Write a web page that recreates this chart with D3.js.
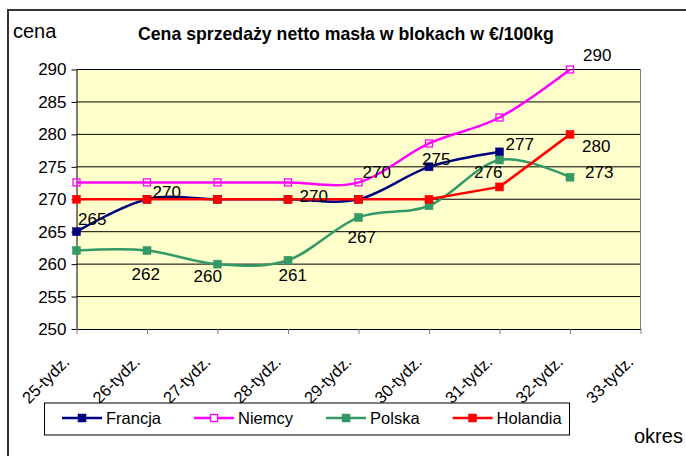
<!DOCTYPE html>
<html>
<head>
<meta charset="utf-8">
<script src="https://cdn.jsdelivr.net/npm/d3@7"></script>
<style>
  body { margin: 0; background: #fff; }
  svg { display: block; font-family: "Liberation Sans", Arial, sans-serif; }
</style>
</head>
<body>
<div id="chart"></div>
<script>
// weeks on the x axis (33 has no data)
var weeks = ["25-tydz.", "26-tydz.", "27-tydz.", "28-tydz.", "29-tydz.", "30-tydz.", "31-tydz.", "32-tydz.", "33-tydz."];
var yTicks = [250, 255, 260, 265, 270, 275, 280, 285, 290];

var francja  = [265, 270, 270, 270, 270, 275, 277.3];
var niemcy   = [272.6, 272.6, 272.6, 272.6, 272.6, 278.6, 282.6, 290];
var polska   = [262.1, 262.1, 260, 260.6, 267.2, 269, 276.05, 273.4];
var holandia = [270, 270, 270, 270, 270, 270, 271.9, 280];

var seriesNames = ["Francja", "Niemcy", "Polska", "Holandia"];
var seriesValues = [francja, niemcy, polska, holandia];

// which points carry a value label: [series, index]
var dataLabels = [
  ["Francja", 0], ["Francja", 1], ["Francja", 3], ["Francja", 4], ["Francja", 5], ["Francja", 6],
  ["Niemcy", 7],
  ["Polska", 1], ["Polska", 2], ["Polska", 3], ["Polska", 4], ["Polska", 6], ["Polska", 7],
  ["Holandia", 7]
];

var W = 686, H = 456;
var plotL = 76.5, plotR = 640.5, plotT = 69.5, plotB = 329;

var colors = { Francja: "#000080", Niemcy: "#ff00ff", Polska: "#339966", Holandia: "#ff0000" };
var curves = {
  Francja: d3.curveCardinal.tension(0),
  Niemcy: d3.curveCardinal.tension(0),
  Polska: d3.curveCardinal.tension(0),
  Holandia: d3.curveLinear
};
// label offsets from the point (x to start of text, y to baseline)
var labelOffsets = {
  "Francja0": [1.5, -7], "Francja1": [5.5, -1], "Francja3": [11.5, 3], "Francja4": [4, -21],
  "Francja5": [-7, -2], "Francja6": [6, -2], "Niemcy7": [13, -8.5], "Holandia7": [12, 18],
  "Polska1": [-15.5, 29], "Polska2": [-24, 18], "Polska3": [-9.5, 21], "Polska4": [-11, 26],
  "Polska6": [-25.5, 18], "Polska7": [15, 1]
};

var svg = d3.select("#chart").append("svg")
  .attr("width", W)
  .attr("height", H);

// outer frame (cut by the window on right and bottom)
svg.append("rect")
  .attr("x", 8).attr("y", 10)
  .attr("width", W + 20).attr("height", H + 20)
  .attr("fill", "none")
  .attr("stroke", "#333")
  .attr("stroke-width", 2);

var x = d3.scalePoint().domain(weeks).range([plotL, plotR]);
var y = d3.scaleLinear().domain([250, 290]).range([plotB, plotT]);

// plot background
svg.append("rect")
  .attr("x", plotL).attr("y", plotT)
  .attr("width", plotR - plotL).attr("height", plotB - plotT)
  .attr("fill", "#ffffcc");

// gridlines
svg.append("g")
  .selectAll("line")
  .data(yTicks.slice(1))
  .enter()
  .append("line")
    .attr("x1", plotL).attr("x2", plotR)
    .attr("y1", function(d) { return y(d); })
    .attr("y2", function(d) { return y(d); })
    .attr("stroke", "#000")
    .attr("stroke-width", 1);

// right border of plot
svg.append("line")
  .attr("x1", plotR).attr("x2", plotR)
  .attr("y1", plotT).attr("y2", plotB)
  .attr("stroke", "#808080");

// y axis
var yAxis = svg.append("g")
  .attr("transform", "translate(" + plotL + ",0)")
  .call(d3.axisLeft(y).tickValues(yTicks).tickSizeInner(5).tickSizeOuter(0).tickPadding(5));
yAxis.select(".domain").attr("stroke", "#000");
yAxis.selectAll(".tick line").attr("stroke", "#000");
yAxis.selectAll("text")
  .attr("font-size", 17)
  .attr("font-family", "Liberation Sans, Arial, sans-serif")
  .attr("fill", "#000");

// x axis
var xAxis = svg.append("g")
  .attr("transform", "translate(0," + plotB + ")")
  .call(d3.axisBottom(x).tickSizeInner(5).tickSizeOuter(0).tickFormat(""));
xAxis.select(".domain").attr("stroke", "#000");
xAxis.selectAll(".tick line").attr("stroke", "#808080");

svg.append("g")
  .selectAll("text")
  .data(weeks)
  .enter()
  .append("text")
    .attr("transform", function(d) { return "translate(" + (x(d) - 6) + "," + (plotB + 34) + ") rotate(-45)"; })
    .attr("text-anchor", "end")
    .attr("font-size", 16.5)
    .attr("fill", "#000")
    .text(function(d) { return d; });

// lines
seriesNames.forEach(function(name, si) {
  var vals = seriesValues[si];
  var line = d3.line()
    .x(function(d, i) { return x(weeks[i]); })
    .y(function(d) { return y(d); })
    .curve(curves[name]);
  svg.append("path")
    .datum(vals)
    .attr("d", line)
    .attr("fill", "none")
    .attr("stroke", colors[name])
    .attr("stroke-width", 2.5);
});

// markers
seriesNames.forEach(function(name, si) {
  var vals = seriesValues[si];
  var open = name === "Niemcy";
  svg.append("g")
    .selectAll("rect")
    .data(vals)
    .enter()
    .append("rect")
      .attr("x", function(d, i) { return x(weeks[i]) - (open ? 3.5 : 4); })
      .attr("y", function(d) { return y(d) - (open ? 3.5 : 4); })
      .attr("width", open ? 7 : 8)
      .attr("height", open ? 7 : 8)
      .attr("fill", open ? "none" : colors[name])
      .attr("stroke", colors[name])
      .attr("stroke-width", open ? 1.3 : 0.5);
});

// data labels
var fmt = d3.format(".0f");
svg.append("g")
  .selectAll("text")
  .data(dataLabels)
  .enter()
  .append("text")
    .attr("x", function(d) {
      var i = d[1];
      return x(weeks[i]) + labelOffsets[d[0] + i][0];
    })
    .attr("y", function(d) {
      var v = seriesValues[seriesNames.indexOf(d[0])][d[1]];
      return y(v) + labelOffsets[d[0] + d[1]][1];
    })
    .attr("font-size", 17)
    .attr("fill", "#000")
    .text(function(d) { return fmt(seriesValues[seriesNames.indexOf(d[0])][d[1]]); });

// title and axis titles
svg.append("text")
  .attr("x", 138).attr("y", 40)
  .attr("font-size", 17.7)
  .attr("font-weight", "bold")
  .attr("fill", "#000")
  .text("Cena sprzedaży netto masła w blokach w €/100kg");

svg.append("text")
  .attr("x", 13).attr("y", 38)
  .attr("font-size", 20)
  .attr("fill", "#000")
  .text("cena");

svg.append("text")
  .attr("x", 634).attr("y", 443)
  .attr("font-size", 20)
  .attr("fill", "#000")
  .text("okres");

// legend
var legend = svg.append("g");
legend.append("rect")
  .attr("x", 44.5).attr("y", 403)
  .attr("width", 525).attr("height", 32)
  .attr("fill", "#fff")
  .attr("stroke", "#000")
  .attr("stroke-width", 1);

var lx = 62, ly = 418;
seriesNames.forEach(function(name) {
  var open = name === "Niemcy";
  legend.append("line")
    .attr("x1", lx).attr("x2", lx + 40)
    .attr("y1", ly).attr("y2", ly)
    .attr("stroke", colors[name])
    .attr("stroke-width", 2.5);
  legend.append("rect")
    .attr("x", lx + 20 - (open ? 3.5 : 4))
    .attr("y", ly - (open ? 3.5 : 4))
    .attr("width", open ? 7 : 8)
    .attr("height", open ? 7 : 8)
    .attr("fill", open ? "#fff" : colors[name])
    .attr("stroke", colors[name])
    .attr("stroke-width", open ? 1.3 : 0.5);
  var t = legend.append("text")
    .attr("x", lx + 44)
    .attr("y", ly + 6)
    .attr("font-size", 16.5)
    .attr("fill", "#000")
    .text(name);
  lx = lx + 44 + t.node().getComputedTextLength() + 33;
});
</script>
</body>
</html>
